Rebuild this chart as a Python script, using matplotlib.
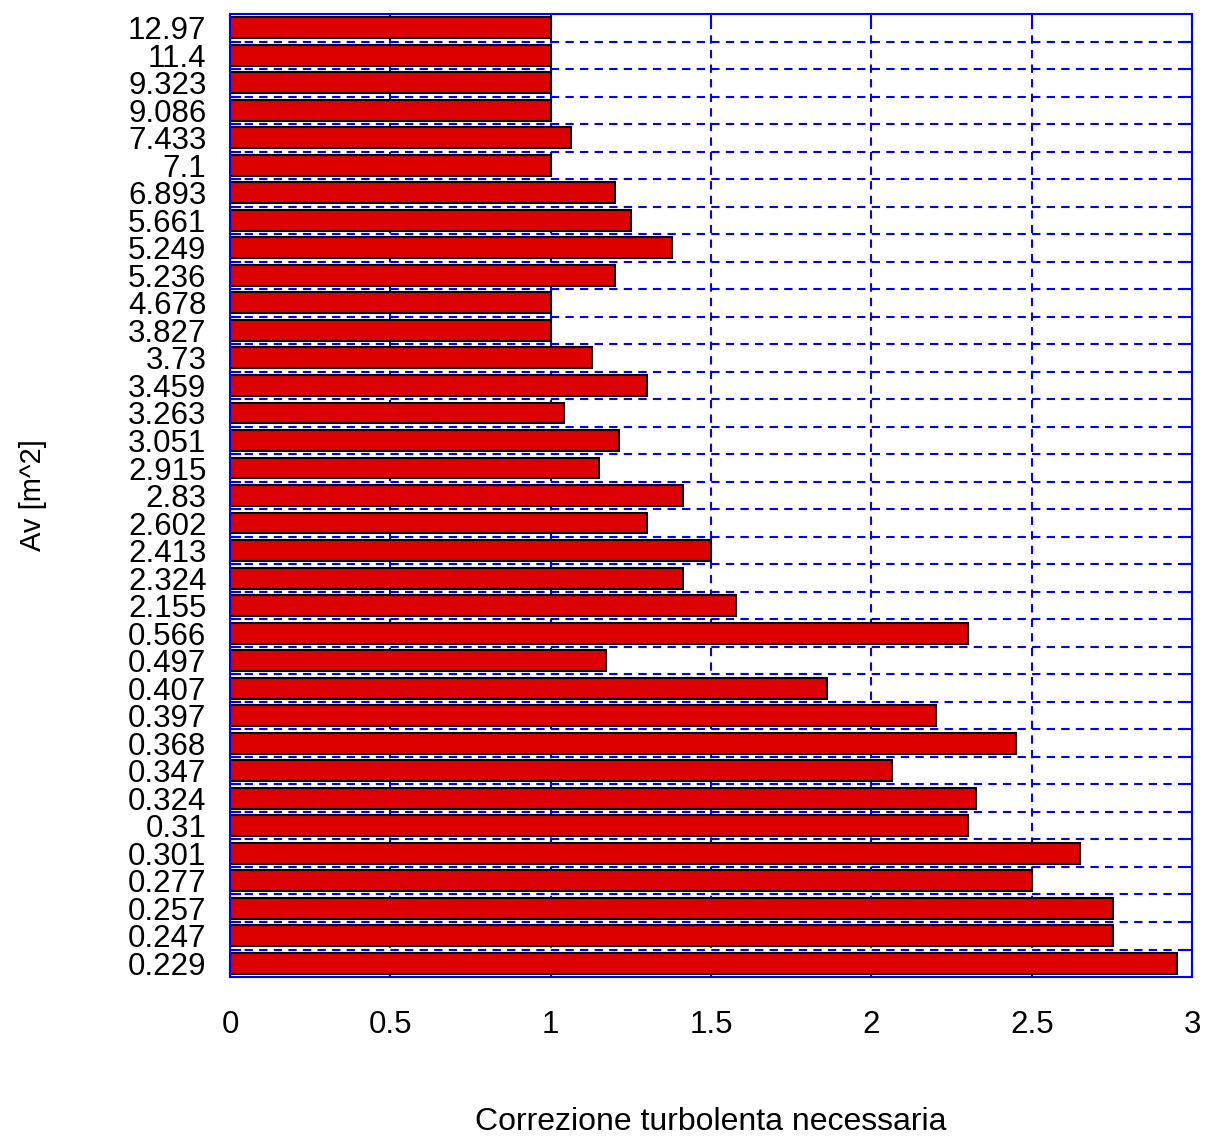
import matplotlib
matplotlib.use("Agg")
from matplotlib import pyplot as plt
import numpy as np

# Data (top to bottom in the picture)
areas = ["12.97", "11.4", "9.323", "9.086", "7.433", "7.1", "6.893", "5.661",
         "5.249", "5.236", "4.678", "3.827", "3.73", "3.459", "3.263", "3.051",
         "2.915", "2.83", "2.602", "2.413", "2.324", "2.155", "0.566", "0.497",
         "0.407", "0.397", "0.368", "0.347", "0.324", "0.31", "0.301", "0.277",
         "0.257", "0.247", "0.229"]
correction = [1.0, 1.0, 1.0, 1.0, 1.062, 1.0, 1.2, 1.25,
              1.378, 1.2, 1.0, 1.0, 1.129, 1.3, 1.04, 1.213,
              1.151, 1.412, 1.3, 1.5, 1.412, 1.578, 2.3, 1.172,
              1.862, 2.203, 2.45, 2.063, 2.325, 2.3, 2.652, 2.5,
              2.752, 2.752, 2.952]
x_ticks = [0, 0.5, 1, 1.5, 2, 2.5, 3]

# bottom bar is position 1, so reverse the lists
labels = areas[::-1]
values = correction[::-1]
pos = np.arange(1, len(values) + 1)

plt.rcParams['font.family'] = ['Liberation Sans', 'DejaVu Sans']

fig = plt.figure(figsize=(12.08, 11.39), dpi=100)
ax = fig.add_axes([0.1904, 0.1422, 0.7964, 0.8455])

ax.barh(pos, values, height=0.76, color="#dd0000", edgecolor="black", linewidth=1.5)

ax.set_xlim(0, 3)
ax.set_ylim(0.5, len(values) + 0.5)

ax.set_xticks(x_ticks)
ax.set_xticklabels([f"{t:g}" for t in x_ticks])
ax.set_yticks(pos)
ax.set_yticklabels(labels)
ax.set_yticks(pos[:-1] + 0.5, minor=True)

ax.tick_params(axis="x", which="major", direction="in", length=10, width=1.5,
               color="blue", top=True, labelsize=22.5, pad=24)
ax.tick_params(axis="y", which="major", length=0, labelsize=22.5, pad=17)
ax.tick_params(axis="y", which="minor", direction="in", length=8, width=1.5,
               color="blue", right=True)

# dashed blue grid, like the matlab one
ax.set_axisbelow(True)
ax.xaxis.grid(True, which="major", color="blue", linestyle=(0, (4, 3)), linewidth=1.5)
ax.yaxis.grid(True, which="minor", color="blue", linestyle=(0, (4, 3)), linewidth=1.5)

for s in ax.spines.values():
    s.set_color("blue")
    s.set_linewidth(1.5)

ax.set_xlabel("Correzione turbolenta necessaria", fontsize=23, labelpad=48)
ax.set_ylabel("Av [m^2]", fontsize=21, labelpad=58)

fig.savefig("out.png", dpi=100)
